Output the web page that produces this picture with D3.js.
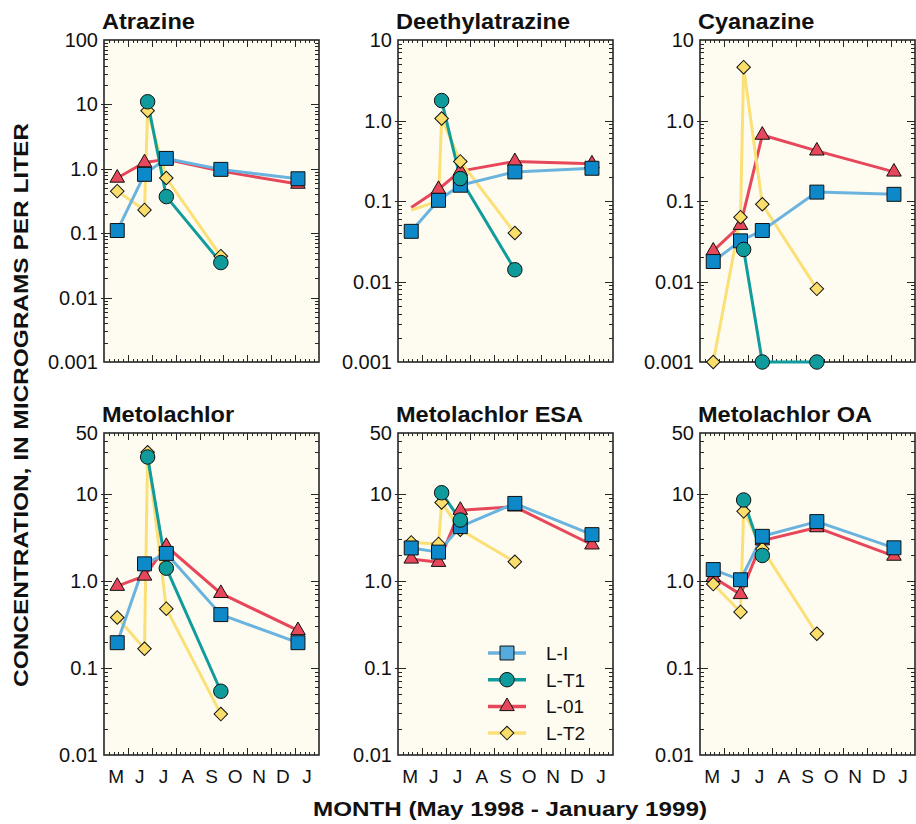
<!DOCTYPE html>
<html>
<head>
<meta charset="utf-8">
<script src="https://cdn.jsdelivr.net/npm/d3@7"></script>
<style>
  body { margin: 0; background: #fff; }
  svg { display: block; font-family: "Liberation Sans", Arial, Helvetica, sans-serif; }
</style>
</head>
<body>
<svg id="chart" width="916" height="824"></svg>
<script>
// sampling dates (shared by all sites, null = not sampled)
const sampleDates = ["1998-05-18", "1998-06-22", "1998-06-26", "1998-07-20", "1998-09-28", "1999-01-05"];
const siteNames = ["L-I", "L-T1", "L-01", "L-T2"];
const monthLabels = ["M", "J", "J", "A", "S", "O", "N", "D", "J"];

const topTicks = [100, 10, 1, 0.1, 0.01, 0.001];
const topTickLabels = ["100", "10", "1.0", "0.1", "0.01", "0.001"];
const bottomTicks = [50, 10, 1, 0.1, 0.01];
const bottomTickLabels = ["50", "10", "1.0", "0.1", "0.01"];

// concentrations, micrograms per liter, one row per site: L-I, L-T1, L-01, L-T2
const atrazine = [
  [0.11, 0.82, null, 1.45, 0.98, 0.70],
  [null, null, 11, 0.37, 0.035, null],
  [0.72, 1.25, null, 1.4, 0.92, 0.58],
  [0.45, 0.23, 8.0, 0.72, 0.044, null]
];
const deethylatrazine = [
  [0.042, 0.102, null, 0.157, 0.23, 0.255],
  [null, null, 1.77, 0.19, 0.014, null],
  [0.083, 0.14, null, 0.235, 0.31, 0.29],
  [0.077, 0.10, 1.06, 0.31, 0.040, null]
];
const cyanazine = [
  [0.0177, 0.032, null, 0.043, 0.129, 0.121],
  [null, null, 0.025, 0.001, 0.001, null],
  [0.024, 0.050, null, 0.66, 0.42, 0.23],
  [0.001, 0.063, 4.6, 0.091, 0.0081, null]
];
const metolachlor = [
  [0.195, 1.57, null, 2.07, 0.41, 0.195],
  [null, null, 26.5, 1.40, 0.054, null],
  [0.87, 1.14, null, 2.5, 0.72, 0.27],
  [0.38, 0.166, 30, 0.48, 0.0295, null]
];
const metolachlorESA = [
  [2.39, 2.14, null, 4.2, 7.76, 3.4],
  [null, null, 10.3, 5.0, null, null],
  [1.79, 1.64, null, 6.5, 7.1, 2.6],
  [2.77, 2.66, 7.95, 3.87, 1.66, null]
];
const metolachlorOA = [
  [1.35, 1.03, null, 3.25, 4.8, 2.4],
  [null, null, 8.5, 1.96, null, null],
  [1.1, 0.70, null, 2.9, 4.1, 1.93],
  [0.92, 0.44, 6.3, 2.33, 0.247, null]
];
// points that are joined by the line but have no symbol: [panel, site, sample]
const unmarked = [[1, 2, 0], [1, 3, 0], [1, 3, 1]];

const panels = [
  { title: "Atrazine", values: atrazine, ticks: topTicks, labels: topTickLabels },
  { title: "Deethylatrazine", values: deethylatrazine, ticks: topTicks.slice(1), labels: topTickLabels.slice(1) },
  { title: "Cyanazine", values: cyanazine, ticks: topTicks.slice(1), labels: topTickLabels.slice(1) },
  { title: "Metolachlor", values: metolachlor, ticks: bottomTicks, labels: bottomTickLabels },
  { title: "Metolachlor ESA", values: metolachlorESA, ticks: bottomTicks, labels: bottomTickLabels },
  { title: "Metolachlor OA", values: metolachlorOA, ticks: bottomTicks, labels: bottomTickLabels }
];

const styles = [
  { line: "#6ab3df", fill: "#0d88c8", legendFill: "#56abde", type: d3.symbolSquare, size: 195, rot: 0 },
  { line: "#109c9c", fill: "#0f9b9b", legendFill: "#0f9b9b", type: d3.symbolCircle, size: 165, rot: 0 },
  { line: "#e6475a", fill: "#e6475a", legendFill: "#e6475a", type: d3.symbolTriangle, size: 92, rot: 0 },
  { line: "#fbe077", fill: "#f9de6c", legendFill: "#f9de6c", type: d3.symbolSquare, size: 92, rot: 45 }
];
const drawOrder = [2, 3, 0, 1];

const svg = d3.select("#chart");
const ink = "#262626";
const paper = "#fefcf0";
const cols = [104, 398, 700];
const rows = [[40, 362], [433, 755]];
const pw = 215;
const t0 = new Date(1998, 4, 1), t1 = new Date(1999, 1, 1);
const dates = sampleDates.map(d3.timeParse("%Y-%m-%d"));

function stretch(sel, k) {
  sel.each(function () {
    const w = this.getComputedTextLength();
    this.setAttribute("textLength", w * k);
    this.setAttribute("lengthAdjust", "spacingAndGlyphs");
  });
}

function marker(g, s, cx, cy, fill) {
  g.append("path")
    .attr("d", d3.symbol(s.type, s.size)())
    .attr("transform", `translate(${cx},${cy}) rotate(${s.rot})`)
    .attr("fill", fill)
    .attr("stroke", "#111")
    .attr("stroke-width", 1);
}

panels.forEach((p, pi) => {
  const left = cols[pi % 3];
  const [top, bottom] = rows[Math.floor(pi / 3)];
  const x = d3.scaleTime().domain([t0, t1]).range([left, left + pw]);
  const y = d3.scaleLog().domain([p.ticks[p.ticks.length - 1], p.ticks[0]]).range([bottom, top]);
  const g = svg.append("g");

  g.append("rect").attr("x", left).attr("y", top).attr("width", pw).attr("height", bottom - top).attr("fill", paper);

  // x ticks: month boundaries and four minor ticks per month, top and bottom
  const months = d3.timeMonth.range(t0, t1);
  const minor = months.flatMap(m => {
    const n = d3.timeMonth.offset(m, 1);
    return d3.range(1, 5).map(k => new Date(+m + k * (n - m) / 5));
  });
  const xt = [...months.slice(1).map(d => [d, 7]), ...minor.map(d => [d, 3])];
  const tk = g.append("g").attr("stroke", ink).attr("stroke-width", 1);
  xt.forEach(([d, len]) => {
    const xx = Math.round(x(d)) + 0.5;
    tk.append("line").attr("x1", xx).attr("x2", xx).attr("y1", bottom).attr("y2", bottom - len);
    tk.append("line").attr("x1", xx).attr("x2", xx).attr("y1", top).attr("y2", top + len);
  });

  // y ticks: decades and 2..9 minors, both sides
  const [lo, hi] = y.domain();
  const yminor = [];
  for (let e = Math.round(Math.log10(lo)); e < Math.log10(hi); e++) {
    for (let m = 2; m <= 9; m++) {
      const v = m * Math.pow(10, e);
      if (v < hi) yminor.push(v);
    }
  }
  yminor.forEach(v => {
    const yy = Math.round(y(v)) + 0.5;
    tk.append("line").attr("x1", left).attr("x2", left + 4).attr("y1", yy).attr("y2", yy);
    tk.append("line").attr("x1", left + pw).attr("x2", left + pw - 4).attr("y1", yy).attr("y2", yy);
  });
  p.ticks.forEach(v => {
    if (v === hi || v === lo) return;
    const yy = Math.round(y(v)) + 0.5;
    tk.append("line").attr("x1", left - 3).attr("x2", left + 8).attr("y1", yy).attr("y2", yy);
    tk.append("line").attr("x1", left + pw).attr("x2", left + pw - 8).attr("y1", yy).attr("y2", yy);
  });

  g.append("rect").attr("x", left).attr("y", top).attr("width", pw).attr("height", bottom - top)
    .attr("fill", "none").attr("stroke", ink).attr("stroke-width", 1.6);

  // y tick labels
  g.append("g").selectAll("text").data(p.ticks).join("text")
    .attr("x", left - 6).attr("y", d => y(d) + 7)
    .attr("text-anchor", "end").attr("font-size", 20).attr("fill", "#111")
    .text((d, i) => p.labels[i]);

  // month labels on bottom row
  if (pi >= 3) {
    g.append("g").selectAll("text").data(months).join("text")
      .attr("x", d => x(new Date(+d + (d3.timeMonth.offset(d, 1) - d) / 2)))
      .attr("y", bottom + 28)
      .attr("text-anchor", "middle").attr("font-size", 19).attr("fill", "#111")
      .text((d, i) => monthLabels[i]);
  }

  // title
  g.append("text").attr("x", left - 2).attr("y", top - 11)
    .attr("font-size", 22).attr("font-weight", "bold").attr("fill", "#111")
    .text(p.title).call(stretch, 1.07);

  // series lines, then symbols
  const pts = p.values.map((row, si) => row.map((v, k) => ({ v, k, si })).filter(d => d.v != null));
  const line = d3.line().x(d => x(dates[d.k])).y(d => y(d.v));
  drawOrder.forEach(si => {
    g.append("path").attr("d", line(pts[si])).attr("fill", "none")
      .attr("stroke", styles[si].line).attr("stroke-width", 3).attr("stroke-linejoin", "round");
  });
  drawOrder.forEach(si => {
    pts[si].forEach(d => {
      if (unmarked.some(u => u[0] === pi && u[1] === si && u[2] === d.k)) return;
      marker(g, styles[si], x(dates[d.k]), y(d.v), styles[si].fill);
    });
  });

  // legend in the Metolachlor ESA panel
  if (pi === 4) {
    const lg = g.append("g");
    siteNames.forEach((name, si) => {
      const ly = 653 + si * 26.7;
      lg.append("line").attr("x1", 488).attr("x2", 526).attr("y1", ly).attr("y2", ly)
        .attr("stroke", styles[si].line).attr("stroke-width", 3.5);
      marker(lg, styles[si], 507, ly, styles[si].legendFill);
      lg.append("text").attr("x", 546).attr("y", ly + 7).attr("font-size", 19).attr("fill", "#111").text(name);
    });
  }
});

// axis titles
svg.append("text")
  .attr("transform", "translate(28,405) rotate(-90)")
  .attr("text-anchor", "middle").attr("font-size", 21).attr("font-weight", "bold").attr("fill", "#111")
  .attr("textLength", 564).attr("lengthAdjust", "spacingAndGlyphs")
  .text("CONCENTRATION, IN MICROGRAMS PER LITER");

svg.append("text")
  .attr("x", 510).attr("y", 816)
  .attr("text-anchor", "middle").attr("font-size", 21).attr("font-weight", "bold").attr("fill", "#111")
  .attr("textLength", 394).attr("lengthAdjust", "spacingAndGlyphs")
  .text("MONTH (May 1998 - January 1999)");
</script>
</body>
</html>
